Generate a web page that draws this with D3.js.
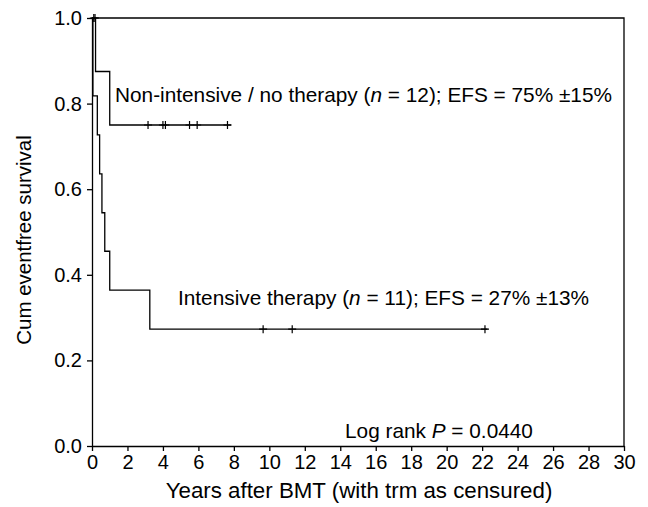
<!DOCTYPE html>
<html>
<head>
<meta charset="utf-8">
<style>
  body { margin: 0; background: #fff; }
  svg { font-family: "Liberation Sans", Arial, sans-serif; }
  .axis .domain { stroke: #000; stroke-width: 1.3; }
  .axis line { stroke: #000; stroke-width: 1.3; }
  .axis text { fill: #000; font-size: 20px; }
</style>
</head>
<body>
<svg width="648" height="507"></svg>
<script src="https://d3js.org/d3.v7.min.js"></script>
<script>
// Kaplan-Meier steps (years, survival)
var nonIntTimes = [0, 0.2, 1.0];
var nonIntSurv = [1.0, 0.875, 0.75];
var nonIntEnd = 7.85;
var nonIntCensor = [0.1, 0.17, 3.16, 4.0, 4.14, 5.5, 5.93, 7.64];

var intTimes = [0, 0.05, 0.3, 0.43, 0.56, 0.72, 1.0, 3.26];
var intSurv = [1.0, 0.818, 0.727, 0.636, 0.545, 0.455, 0.364, 0.273];
var intEnd = 22.3;
var intCensor = [9.65, 11.29, 22.16];

var xTicks = d3.range(0, 31, 2);
var yTicks = [0, 0.2, 0.4, 0.6, 0.8, 1.0];

var svg = d3.select("svg"),
    margin = {top: 18, right: 24, bottom: 61, left: 92},
    width = +svg.attr("width") - margin.left - margin.right,
    height = +svg.attr("height") - margin.top - margin.bottom,
    g = svg.append("g").attr("transform", "translate(" + margin.left + "," + margin.top + ")");

var x = d3.scaleLinear().domain([0, 30]).range([0, width]);
var y = d3.scaleLinear().domain([0, 1]).range([height, 0]);

// frame top + right
g.append("path")
    .attr("d", "M0," + y(1) + "H" + x(30) + "V" + y(0))
    .attr("fill", "none").attr("stroke", "#000").attr("stroke-width", 1.3);

g.append("g")
    .attr("class", "axis")
    .attr("transform", "translate(0," + height + ")")
    .call(d3.axisBottom(x).tickValues(xTicks).tickSize(5).tickSizeOuter(0).tickPadding(4));

g.append("g")
    .attr("class", "axis")
    .call(d3.axisLeft(y).tickValues(yTicks).tickFormat(d3.format(".1f")).tickSize(5).tickSizeOuter(0).tickPadding(5));

function stepAt(times, surv, t) {
  var i = d3.bisectRight(times, t) - 1;
  return surv[Math.max(i, 0)];
}

function drawCurve(times, surv, end, censor) {
  var pts = [];
  times.forEach(function(t, i) {
    if (i > 0) pts.push([t, surv[i - 1]]);
    pts.push([t, surv[i]]);
  });
  pts.push([end, surv[surv.length - 1]]);
  g.append("path")
      .datum(pts)
      .attr("fill", "none")
      .attr("stroke", "#000")
      .attr("stroke-width", 1.3)
      .attr("d", d3.line().x(function(d) { return x(d[0]); }).y(function(d) { return y(d[1]); }));
  g.selectAll(null)
      .data(censor)
      .enter().append("path")
      .attr("fill", "none")
      .attr("stroke", "#000")
      .attr("stroke-width", 1.2)
      .attr("d", function(t) {
        var cx = x(t), cy = y(stepAt(times, surv, t));
        return "M" + (cx - 4) + "," + cy + "H" + (cx + 4) + "M" + cx + "," + (cy - 4) + "V" + (cy + 4);
      });
}

drawCurve(nonIntTimes, nonIntSurv, nonIntEnd, nonIntCensor);
drawCurve(intTimes, intSurv, intEnd, intCensor);

function label(xp, yp, parts) {
  var t = svg.append("text")
      .attr("x", xp).attr("y", yp)
      .attr("font-size", 20.8).attr("fill", "#000");
  parts.forEach(function(p) {
    var s = t.append("tspan").text(p[0]);
    if (p[1]) s.attr("font-style", "italic");
  });
}

label(115, 102, [["Non-intensive / no therapy ("], ["n", 1], [" = 12); EFS = 75% \u00b115%"]]);
label(178, 305, [["Intensive therapy ("], ["n", 1], [" = 11); EFS = 27% \u00b113%"]]);
label(345, 438, [["Log rank "], ["P", 1], [" = 0.0440"]]);

svg.append("text")
    .attr("x", 359)
    .attr("y", 498)
    .attr("text-anchor", "middle")
    .attr("font-size", 22.3)
    .text("Years after BMT (with trm as censured)");

svg.append("text")
    .attr("transform", "translate(31,240) rotate(-90)")
    .attr("text-anchor", "middle")
    .attr("font-size", 20.5)
    .text("Cum eventfree survival");
</script>
</body>
</html>
